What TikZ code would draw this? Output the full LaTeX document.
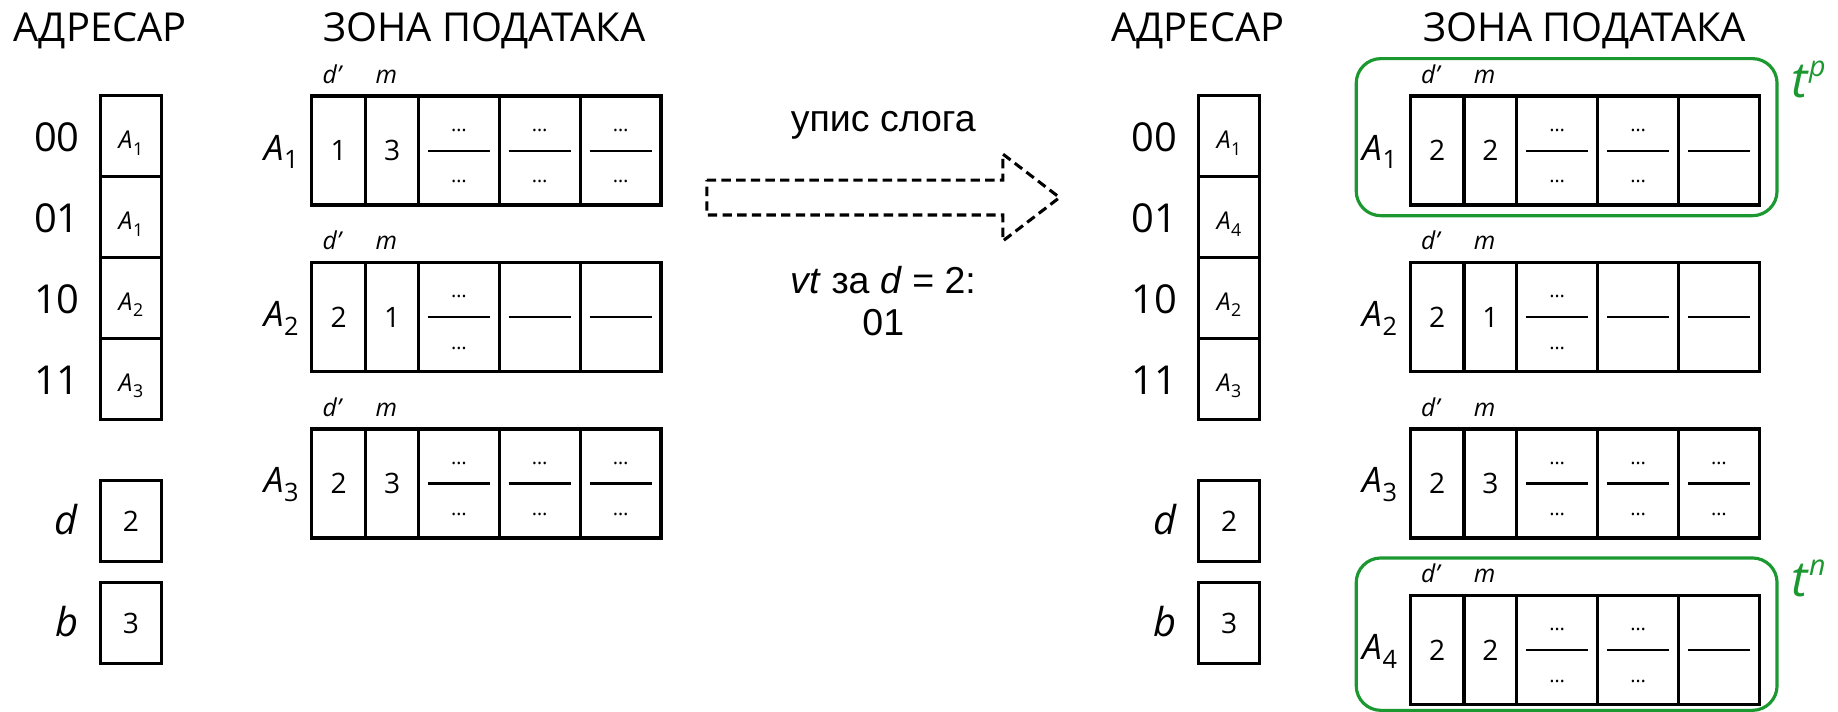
\documentclass[tikz,border=0pt]{standalone}
\usepackage{fontspec}
\setmainfont{Open Sans}
\newfontfamily\arialf{Liberation Sans}
\definecolor{grn}{RGB}{28,152,48}
\newcommand\Sb[1]{\raisebox{-0.25em}{\scalebox{0.72}{#1}}}
\newcommand\Asb[1]{\textit{A}\kern0.02em\Sb{#1}}
\newcommand\frc[1]{%
  \draw[fracline] ([xshift=8pt]#1.west) -- ([xshift=-8pt]#1.east);
  \node[sml, anchor=base] (#1u) at ([yshift=16.5pt]#1.center) {…};
  \node[sml, anchor=base] (#1d) at ([yshift=-27.5pt]#1.center) {…};}
\newcommand\lnc[1]{%
  \draw[fracline] ([xshift=8pt]#1.west) -- ([xshift=-8pt]#1.east);}
\newcommand\drow[9]{%
  \node[cellb, minimum width=46pt, anchor=north west] (#1c1) at (#2,#3) {#5};
  \node[cellb, minimum width=45pt, anchor=north west] (#1c2) at (#1c1.north east) {#6};
  \node[cellb, minimum width=69pt, anchor=north west] (#1c3) at (#1c2.north east) {};
  \node[cellb, minimum width=69pt, anchor=north west] (#1c4) at (#1c3.north east) {};
  \node[cellb, minimum width=69pt, anchor=north west] (#1c5) at (#1c4.north east) {};
  #7{#1c3}#8{#1c4}#9{#1c5}
  \node[alab, anchor=base east] (#1l) at ([xshift=-11pt,yshift=-8pt]#1c1.west) {#4};
  \node[dml, anchor=base] (#1dp) at ([xshift=-5pt,yshift=11pt]#1c1.north) {\textit{d'}};
  \node[dml, anchor=base] (#1m) at ([xshift=-5pt,yshift=11pt]#1c2.north) {\textit{m}};
}
\tikzset{
  hd/.style={font=\fontsize{34}{40}\selectfont, inner sep=0},
  alab/.style={font=\fontsize{30}{36}\selectfont, inner sep=0},
  sml/.style={font=\fontsize{17}{20}\selectfont, inner sep=0},
  dml/.style={font=\fontsize{21}{24}\selectfont, inner sep=0},
  cellb/.style={draw, line width=2.8pt, inner sep=0, outer sep=0, minimum height=93pt,
    font=\fontsize{24}{28}\selectfont},
  acell/.style={draw, line width=2.8pt, inner sep=0, outer sep=0, minimum width=52pt,
    minimum height=69pt, font=\fontsize{21}{24}\selectfont, text height=22pt, text depth=0pt},
  vcell/.style={draw, line width=2.8pt, inner sep=0, outer sep=0, minimum width=52pt,
    minimum height=69pt, font=\fontsize{24}{28}\selectfont},
  fracline/.style={line width=1.9pt},
  grnbox/.style={draw=grn, line width=2.7pt, rounded corners=21pt, inner sep=0,
    minimum width=359pt},
  tlab/.style={text=grn, font=\fontsize{42}{46}\selectfont, inner sep=0},
  arr/.style={draw, dash pattern=on 8pt off 4.5pt, line width=2.6pt, line join=miter},
  atxt/.style={font={\arialf\fontsize{32}{38}\selectfont}, inner sep=0}
}
\begin{document}
\begin{tikzpicture}[x=1pt,y=-1pt]
\useasboundingbox (0,0) rectangle (1568,607);

% headers
\node[hd, anchor=base] (h1) at (85.4,35.6) {АДРЕСАР};
\node[hd, anchor=base] (h2) at (413,35.6) {ЗОНА ПОДАТАКА};
\node[hd, anchor=base] (h3) at (1022,35.6) {АДРЕСАР};
\node[hd, anchor=base] (h4) at (1352,35.6) {ЗОНА ПОДАТАКА};

% left address column
\node[acell] (la1) at (111.7,116.1) {\Asb{1}};
\node[acell] (la2) at (111.7,185.1) {\Asb{1}};
\node[acell] (la3) at (111.7,254.1) {\Asb{2}};
\node[acell] (la4) at (111.7,323.1) {\Asb{3}};
\node[hd, anchor=base] (lk1) at (48.5,129.6) {00};
\node[hd, anchor=base] (lk2) at (48.5,198.6) {01};
\node[hd, anchor=base] (lk3) at (48.5,267.6) {10};
\node[hd, anchor=base] (lk4) at (48.5,336.6) {11};
\node[vcell] (ld) at (111.7,444.5) {2};
\node[vcell] (lb) at (111.7,531.5) {3};
\node[hd, anchor=base] (ldl) at (57,456) {\textit{d}};
\node[hd, anchor=base] (lbl) at (57,543) {\textit{b}};

% left data zone
\drow{La}{266}{82}{\Asb{1}}{1}{3}{\frc}{\frc}{\frc}
\drow{Lb}{266}{224}{\Asb{2}}{2}{1}{\frc}{\lnc}{\lnc}
\drow{Lc}{266}{366}{\Asb{3}}{2}{3}{\frc}{\frc}{\frc}

% arrow
\coordinate (p1) at (603,153.6);
\coordinate (p2) at (855.5,153.6);
\coordinate (p3) at (855.5,131.4);
\coordinate (p4) at (903.9,168.5);
\coordinate (p5) at (855.5,205.6);
\coordinate (p6) at (855.5,183.4);
\coordinate (p7) at (603,183.4);
\draw[arr] (p1) -- (p2) -- (p3) -- (p4) -- (p5) -- (p6) -- (p7) -- cycle;
\node[atxt, anchor=base] (t1) at (753.5,112.4) {упис слога};
\node[atxt, anchor=base] (t2) at (753.5,250) {\textit{vt} за \textit{d} = 2:};
\node[atxt, anchor=base] (t3) at (753.5,286) {01};

% right address column
\node[acell] (ra1) at (1048.5,116.1) {\Asb{1}};
\node[acell] (ra2) at (1048.5,185.1) {\Asb{4}};
\node[acell] (ra3) at (1048.5,254.1) {\Asb{2}};
\node[acell] (ra4) at (1048.5,323.1) {\Asb{3}};
\node[hd, anchor=base] (rk1) at (985,129.6) {00};
\node[hd, anchor=base] (rk2) at (985,198.6) {01};
\node[hd, anchor=base] (rk3) at (985,267.6) {10};
\node[hd, anchor=base] (rk4) at (985,336.6) {11};
\node[vcell] (rd) at (1048.5,444.5) {2};
\node[vcell] (rb) at (1048.5,531.5) {3};
\node[hd, anchor=base] (rdl) at (994,456) {\textit{d}};
\node[hd, anchor=base] (rbl) at (994,543) {\textit{b}};

% right data zone
\node[grnbox, minimum height=134pt] (gtop) at (1336.5,117) {};
\node[grnbox, minimum height=130pt] (gbot) at (1336.5,541) {};
\drow{Ra}{1203}{82}{\Asb{1}}{2}{2}{\frc}{\frc}{\lnc}
\drow{Rb}{1203}{224}{\Asb{2}}{2}{1}{\frc}{\lnc}{\lnc}
\drow{Rc}{1203}{366}{\Asb{3}}{2}{3}{\frc}{\frc}{\frc}
\drow{Rd}{1203}{508}{\Asb{4}}{2}{2}{\frc}{\frc}{\lnc}
\node[tlab, anchor=base west] (tp) at (1528,83) {\textit{t}\raisebox{0.42em}{\scalebox{0.58}{\textit{p}}}};
\node[tlab, anchor=base west] (tn) at (1528,509) {\textit{t}\raisebox{0.42em}{\scalebox{0.58}{\textit{n}}}};
\end{tikzpicture}
\end{document}
